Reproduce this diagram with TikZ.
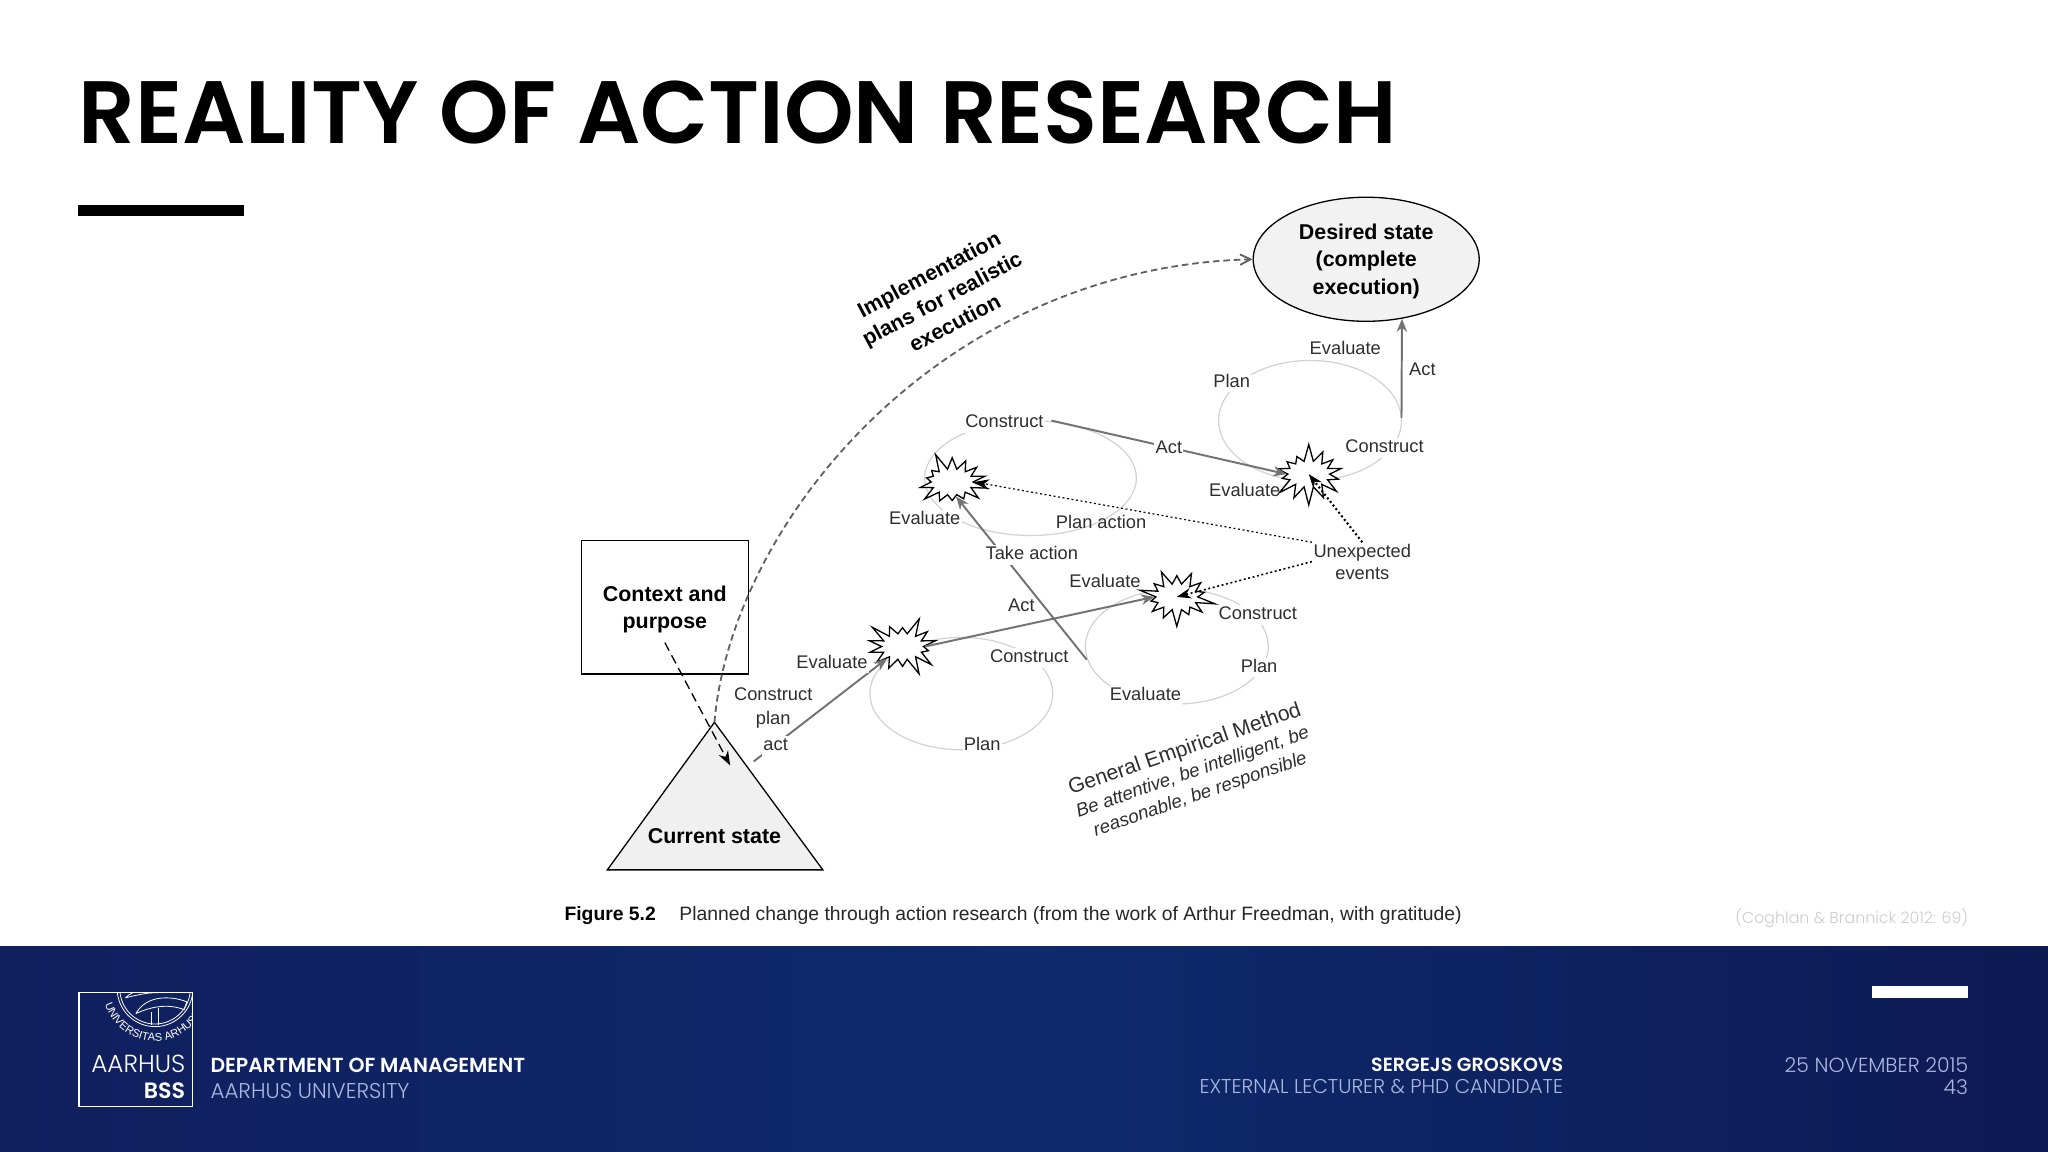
\documentclass[tikz,border=0pt]{standalone}
\usepackage{fontspec}
\setmainfont{Liberation Sans}
\newfontfamily\semifont{Poppins SemiBold}
\newfontfamily\thinfont{Poppins Light}
\usetikzlibrary{arrows.meta,shapes.geometric,shapes.symbols,decorations.text}
\definecolor{navyl}{HTML}{101F5E}
\definecolor{navym}{HTML}{0E2A6C}
\definecolor{navyr}{HTML}{0D1A54}
\definecolor{paleblue}{HTML}{A9B8E0}
\tikzset{
  lab/.style={font=\fontsize{14}{17}\selectfont,text=black!82,fill=white,inner sep=1pt,text height=10pt,text depth=3pt,yshift=-1pt},
  boldlab/.style={font=\fontsize{16.4}{21}\selectfont\bfseries,align=center,inner sep=0pt,yshift=-1.5pt},
  ring/.style={ellipse,draw=black!18,line width=.9pt,inner sep=0pt},
  burst/.style={starburst,starburst points=14,starburst point height=14pt,draw=black,fill=white,
    line width=1pt,inner sep=0pt,minimum width=60pt,minimum height=48pt},
  grayline/.style={draw=black!55,line width=1.5pt,-{Stealth[length=10pt,width=8pt]}},
  dotline/.style={draw=black,dash pattern=on 1.5pt off 2pt,line width=1.2pt,-{Stealth[length=11pt,width=8pt]}},
  foot/.style={inner sep=0pt,anchor=base east},
}
\begin{document}
\begin{tikzpicture}[x=1pt,y=-1pt]

      \path[use as bounding box,fill=white] (0,0) rectangle (1568,882);
      \shade[left color=navyl,right color=navyr,middle color=navym] (0,725) rectangle (1568,882);

      \node[font=\fontsize{67.8}{80}\selectfont\semifont,anchor=base west,inner sep=0pt] (title) at (60,110) {REALITY OF ACTION RESEARCH};
      \fill[black] (60,157) rectangle (187,165);
      \fill[white] (1433,755) rectangle (1507,764);

      \begin{scope}[every node/.style={ring}]
        \node[minimum width=140pt,minimum height=86pt] (loopa) at (736,531) {};
        \node[minimum width=162pt,minimum height=88pt] (loopb) at (789,366) {};
        \node[minimum width=140pt,minimum height=92pt] (loopc) at (1003,322) {};
        \node[minimum width=140pt,minimum height=88pt] (loopd) at (901,495) {};
      \end{scope}

      \node[draw,line width=1pt,minimum width=128pt,minimum height=102pt] (context) at (509,465) {};
      \coordinate (apex) at (547,553);
      \coordinate (baseleft) at (465,666);
      \coordinate (baseright) at (630,666);
      \draw[fill=black!6,line width=1pt] (apex) -- (baseleft) -- (baseright) -- cycle;
      \node[draw,fill=black!5,ellipse,line width=1pt,minimum width=173pt,minimum height=95pt,inner sep=0pt] (desired) at (1046,198.5) {};

      \begin{scope}[every node/.style={burst}]
        \node[random starburst=3] (s1) at (691,495) {};
        \node[random starburst=5] (s2) at (729,369) {};
        \node[random starburst=7] (s3) at (1002,363) {};
        \node[random starburst=9] (s4) at (901,457) {};
      \end{scope}

      \node[boldlab] (contexttext) at (509,465) {Context and\\purpose};
      \node[boldlab] (currenttext) at (547,639) {Current state};
      \node[boldlab] (desiredtext) at (1046,198.5) {Desired state\\(complete\\execution)};
      \node[boldlab,rotate=28] (plans) at (721,227) {Implementation\\plans for realistic\\execution};

      \coordinate (contextout) at (509,492);
      \coordinate (currentin) at (559,586);
      \coordinate (startact) at (577,583);
      \coordinate (loopbout) at (805,322);
      \coordinate (loopdout) at (832,505);
      \coordinate (loopcout) at (1073,320);

      \draw[draw=black!62,dash pattern=on 5pt off 3pt,line width=1.4pt,-{Straight Barb[length=8pt,width=8pt]}] (apex) .. controls (560,400) and (720,205) .. (desired.west);
      \draw[dash pattern=on 7pt off 4pt,line width=1pt,-{Stealth[length=11pt,width=8pt]}] (contextout) -- (currentin);

      \node[lab,align=center,text height=,text depth=] (unexpected) at (1043,429) {\baselineskip=18pt Unexpected\\events};

      \begin{scope}[every node/.style={lab}]
        \path (startact) edge[grayline] node[pos=.165] (acta) {act} (s1);
        \path (loopbout) edge[grayline] node[pos=.5] (actc) {Act} (s3.west);
        \path (loopdout) edge[grayline] (s2.285);
        \path (s1.east) edge[grayline] (s4.west);
        \path (loopcout) edge[grayline] (desired.-59);
      \end{scope}

      \path (unexpected.north west) edge[dotline,line width=.9pt] (s2.east);
      \path (unexpected.west) edge[dotline] (s4.center);
      \path (unexpected.north) edge[dotline,line width=1.6pt] (s3.center);

      \begin{scope}[every node/.style={lab}]
        \node (take) at (790,424) {Take action};
        \node (evc) at (1030,267) {Evaluate};
        \node (planc) at (943,292) {Plan};
        \node[fill=none] (actd) at (1089,283) {Act};
        \node (conc) at (1060,342) {Construct};
        \node[fill=none] (evs3) at (953,376) {Evaluate};
        \node (conb) at (769,323) {Construct};
        \node (evb) at (708,397) {Evaluate};
        \node[fill=none] (planb) at (843,400) {Plan action};
        \node[fill=none] (evs4) at (846,445) {Evaluate};
        \node[fill=none] (actb) at (782,464) {Act};
        \node (cond) at (963,470) {Construct};
        \node (pland) at (964,510) {Plan};
        \node (cona) at (788,503) {Construct};
        \node (evd) at (877,532) {Evaluate};
        \node (eva) at (637,507) {Evaluate};
        \node (plana) at (752,570) {Plan};
        \node (constr) at (592,532) {Construct};
        \node (planl) at (592,550) {plan};
      \end{scope}

      \node[align=center,inner sep=0pt,rotate=19,text=black!82,font=\fontsize{14.3}{18}\selectfont] (method) at (913,591) {{\fontsize{16.2}{20}\selectfont General Empirical Method}\\\itshape Be attentive, be intelligent, be\\\itshape reasonable, be responsible};

      \node[anchor=base west,inner sep=0pt,font=\fontsize{14.8}{18}\selectfont\bfseries] (figno) at (432,705) {Figure 5.2};
      \node[anchor=base west,inner sep=0pt,text=black!85,font=\fontsize{14.8}{18}\selectfont] (caption) at (520,705) {Planned change through action research (from the work of Arthur Freedman, with gratitude)};
      \node[foot,text=black!20,font=\fontsize{12.1}{14}\selectfont\thinfont] (source) at (1507,707) {(Coghlan \& Brannick 2012: 69)};

      \node[draw=white,line width=1.2pt,minimum width=87pt,minimum height=87pt,inner sep=0pt] (logo) at (104,803.5) {};
      \begin{scope}
        \clip (60.5,760) rectangle (147.5,847);
        \coordinate (seal) at (118.7,757);
        \draw[white,line width=.6pt] (seal) circle[radius=29pt] (seal) circle[radius=27pt];
        \draw[white,line width=.6pt] (104,776) .. controls (112,762) and (130,762) .. (143,767) -- (141,773) .. controls (128,768) and (115,771) .. (104,776);
        \draw[white,line width=.6pt] (96,764) .. controls (102,758) and (112,756) .. (120,760) .. controls (112,760) and (104,762) .. (96,764);
        \draw[white,line width=.6pt] (116,775) -- (116,785) (121,772) -- (121,785);
        \path[postaction={decorate,decoration={text along path,text align=left,
          text={|\fontsize{8.5}{9}\selectfont\color{white}|UNIVERSITAS ARHUSIENSIS}}}]
          (seal) ++(197:40pt) arc[start angle=197,end angle=385,radius=40pt];
      \end{scope}

      \begin{scope}[every node/.style={foot}]
        \node[text=white,font=\fontsize{18.9}{22}\selectfont\thinfont] (aarhus) at (142,821) {AARHUS};
        \node[text=white,font=\fontsize{17}{19}\selectfont\semifont] (bss) at (142,841) {BSS};
        \node[text=white,font=\fontsize{15.6}{17}\selectfont\semifont,anchor=base west] (dept) at (161,821) {DEPARTMENT OF MANAGEMENT};
        \node[text=paleblue,font=\fontsize{16.4}{17}\selectfont\thinfont,anchor=base west] (univ) at (161,841) {AARHUS UNIVERSITY};
        \node[text=white,font=\fontsize{14.6}{17}\selectfont\semifont] (name) at (1197,820) {SERGEJS GROSKOVS};
        \node[text=paleblue,font=\fontsize{15.3}{17}\selectfont\thinfont] (job) at (1197,837) {EXTERNAL LECTURER \& PHD CANDIDATE};
        \node[text=paleblue,font=\fontsize{15.6}{17}\selectfont\thinfont] (date) at (1507,821) {25 NOVEMBER 2015};
        \node[text=paleblue,font=\fontsize{15.6}{17}\selectfont\thinfont] (page) at (1507,838) {43};
      \end{scope}

    \end{tikzpicture}
\end{document}
